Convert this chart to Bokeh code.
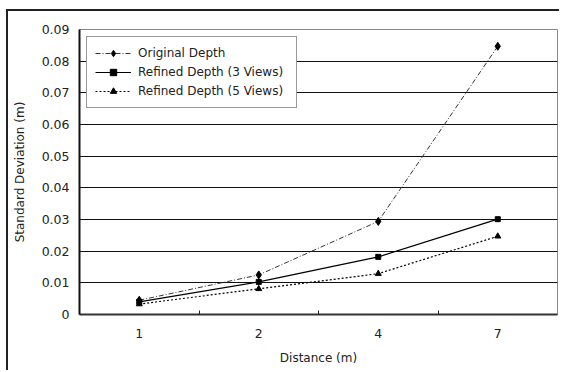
from bokeh.plotting import figure
from bokeh.models import Range1d, FixedTicker, Legend
from bokeh.embed import file_html
from bokeh.resources import INLINE

categories = ["1", "2", "4", "7"]
original_depth = [0.0045, 0.0125, 0.0294, 0.0847]
refined_3_views = [0.0040, 0.0103, 0.0182, 0.0301]
refined_5_views = [0.0033, 0.0081, 0.0129, 0.0247]
y_ticks = [0, 0.01, 0.02, 0.03, 0.04, 0.05, 0.06, 0.07, 0.08, 0.09]

xs = [i + 0.5 for i in range(len(categories))]

FONT = "DejaVu Sans"
TXT = "#222222"

p = figure(width=553, height=361, output_backend="svg", toolbar_location=None,
           x_range=Range1d(0, len(categories)), y_range=Range1d(0, 0.09),
           min_border_left=71, min_border_right=4, min_border_top=18, min_border_bottom=58,
           styles={"border-left": "2px solid #222222", "border-top": "2px solid #222222",
                   "margin-left": "6px", "margin-top": "9px"})
p.outline_line_color = "#888888"
p.outline_line_width = 1
p.background_fill_color = "white"
p.border_fill_color = "white"

# axes
xa = p.xaxis[0]
xa.ticker = FixedTicker(ticks=xs, minor_ticks=list(range(1, len(categories))))
xa.major_label_overrides = {x: c for x, c in zip(xs, categories)}
xa.major_tick_in = 0
xa.major_tick_out = 0
xa.minor_tick_in = 4
xa.minor_tick_out = 0
xa.minor_tick_line_color = "#222222"
xa.axis_line_color = "#333333"
xa.axis_line_width = 2
xa.major_label_standoff = 14
xa.axis_label = "Distance (m)"
xa.axis_label_standoff = 10

ya = p.yaxis[0]
ya.ticker = FixedTicker(ticks=y_ticks)
ya.major_label_overrides = {0: "0"}
ya.major_tick_in = 0
ya.major_tick_out = 0
ya.minor_tick_line_color = None
ya.axis_line_color = "#111111"
ya.axis_line_width = 2
ya.major_label_standoff = 10
ya.axis_label = "Standard Deviation (m)"
ya.axis_label_standoff = 12

for ax in (xa, ya):
    ax.major_label_text_font = FONT
    ax.major_label_text_font_size = "12.5px"
    ax.major_label_text_color = TXT
    ax.axis_label_text_font = FONT
    ax.axis_label_text_font_size = "12px"
    ax.axis_label_text_font_style = "normal"
    ax.axis_label_text_color = TXT

p.xgrid.grid_line_color = None
p.ygrid.ticker = FixedTicker(ticks=y_ticks)
p.ygrid.grid_line_color = "#111111"
p.ygrid.grid_line_width = 1

# series
l1 = p.line(xs, original_depth, line_color="#333333", line_width=1, line_dash="5 2 1 2")
m1 = p.scatter(xs, original_depth, marker="diamond", size=8, fill_color="black", line_color="black")
l2 = p.line(xs, refined_3_views, line_color="black", line_width=1.2)
m2 = p.scatter(xs, refined_3_views, marker="square", size=5, fill_color="black", line_color="black")
l3 = p.line(xs, refined_5_views, line_color="black", line_width=1.2, line_dash="2 2")
m3 = p.scatter(xs, refined_5_views, marker="triangle", size=6, fill_color="black", line_color="black")

legend = Legend(items=[("Original Depth", [l1, m1]),
                       ("Refined Depth (3 Views)", [l2, m2]),
                       ("Refined Depth (5 Views)", [l3, m3])],
                location="top_left")
legend.margin = 7
legend.padding = 8
legend.spacing = 3
legend.glyph_width = 36
legend.glyph_height = 16
legend.label_height = 16
legend.label_width = 150
legend.label_standoff = 7
legend.label_text_font = FONT
legend.label_text_font_size = "12px"
legend.label_text_color = TXT
legend.border_line_color = "#333333"
legend.border_line_width = 1
legend.background_fill_color = "white"
legend.background_fill_alpha = 1
p.add_layout(legend)

open("out.html", "w").write(file_html(p, INLINE))
